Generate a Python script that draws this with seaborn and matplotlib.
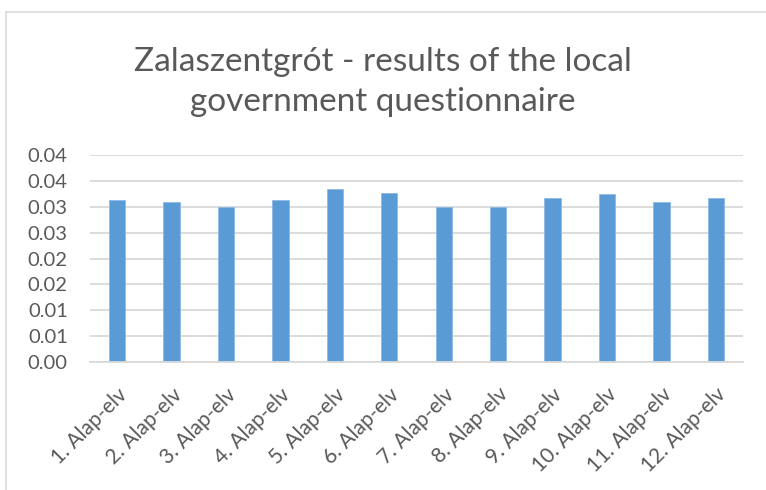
import numpy as np
import pandas as pd
import matplotlib
matplotlib.use("Agg")
import matplotlib.pyplot as plt
from matplotlib.patches import Rectangle
import seaborn as sns

# data
categories = [f"{i}. Alap-elv" for i in range(1, 13)]
values = [0.0314, 0.0310, 0.0299, 0.0314, 0.0335, 0.0327,
          0.0299, 0.0299, 0.0316, 0.0325, 0.0310, 0.0317]
ytick_values = [0.0, 0.005, 0.01, 0.015, 0.02, 0.025, 0.03, 0.035, 0.04]
ytick_labels = ["0.00", "0.01", "0.01", "0.02", "0.02", "0.03", "0.03", "0.04", "0.04"]
title = "Zalaszentgrót - results of the local\ngovernment questionnaire"

df = pd.DataFrame({"category": categories, "value": values})

sns.set_theme(style="white")
plt.rcParams['font.family'] = ['Lato', 'DejaVu Sans']

text_color = '#595959'
grid_color = '#D9D9D9'
bar_color = '#5B9BD5'

fig = plt.figure(figsize=(7.66, 4.90), dpi=100)
ax = fig.add_axes([90 / 766, 1 - 362 / 490, 653 / 766, 207 / 490])

sns.barplot(data=df, x="category", y="value", color=bar_color, width=0.3,
            saturation=1, edgecolor='#8DB9E6', linewidth=0.6, ax=ax)

ax.set_ylim(0, 0.04)
ax.set_xlim(-0.5, len(categories) - 0.5)
ax.set_yticks(ytick_values)
ax.set_yticklabels(ytick_labels, fontsize=14.5, color=text_color)
ax.set_xticks(range(len(categories)))
ax.set_xticklabels(categories, rotation=45, ha='right', rotation_mode='anchor',
                   fontsize=15, color=text_color)
ax.tick_params(axis='both', length=0)
ax.tick_params(axis='y', pad=16)
ax.tick_params(axis='x', pad=16)
ax.set_xlabel('')
ax.set_ylabel('')

ax.yaxis.grid(True, color=grid_color, linewidth=1.3)
ax.set_axisbelow(True)
for side in ['top', 'right', 'left']:
    ax.spines[side].set_visible(False)
ax.spines['bottom'].set_color(grid_color)
ax.spines['bottom'].set_linewidth(1.3)

fig.text(0.5, 1 - 82 / 490, title, ha='center', va='center', fontsize=24,
         color=text_color, linespacing=1.4)

# chart border, cropped on the right and bottom like the reference
fig.patches.append(Rectangle((6 / 766, -0.1), 1.2, 1 - 12 / 490 + 0.1,
                             transform=fig.transFigure, fill=False,
                             edgecolor=grid_color, linewidth=1.2))

fig.savefig("out.png", dpi=100)
